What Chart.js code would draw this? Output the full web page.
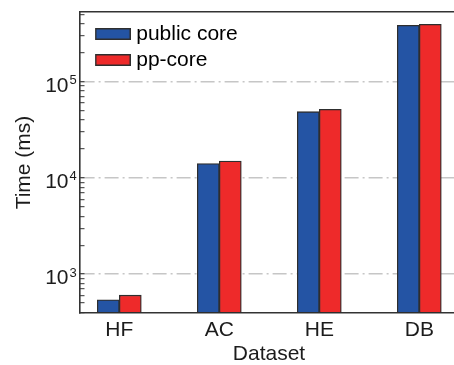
<!DOCTYPE html>
<html>
<head>
<meta charset="utf-8">
<script src="https://cdn.jsdelivr.net/npm/chart.js@4.4.1/dist/chart.umd.min.js"></script>
<style>
  html, body { margin: 0; padding: 0; background: #fff; overflow: hidden; }
  canvas { display: block; }
</style>
</head>
<body>
<canvas id="c" width="460" height="365"></canvas>
<script>
// ---- data ----
const categories = ['HF', 'AC', 'HE', 'DB'];
const categoryPositions = [0, 1, 2, 3];
const publicCore = [541, 14100, 48800, 385000];
const ppCore = [605, 15000, 51600, 395000];
const seriesNames = ['public core', 'pp-core'];
const yTickValues = [400, 500, 600, 700, 800, 900,
  1000, 2000, 3000, 4000, 5000, 6000, 7000, 8000, 9000,
  10000, 20000, 30000, 40000, 50000, 60000, 70000, 80000, 90000,
  100000, 200000, 300000, 400000, 500000];
const yMajorValues = [1000, 10000, 100000];
const yMajorBase = ['10', '10', '10'];
const yMajorExp = ['3', '4', '5'];

const BLUE = '#2454a4';
const RED = '#ee2a2a';
const EDGE = '#2e2e2e';
const FONT = "'Liberation Sans', Arial, Helvetica, sans-serif";
const TEXT = '#1c1c1c';
const FS = 21;

Chart.defaults.font.family = FONT;
Chart.defaults.color = TEXT;

function legendSwatch(color) {
  const cv = document.createElement('canvas');
  cv.width = 36; cv.height = 12;
  const g = cv.getContext('2d');
  g.fillStyle = color;
  g.fillRect(0, 0, 36, 12);
  g.strokeStyle = EDGE;
  g.lineWidth = 1.5;
  g.strokeRect(0.75, 0.75, 34.5, 10.5);
  return cv;
}
const swatches = [legendSwatch(BLUE), legendSwatch(RED)];

const ytickLabelPlugin = {
  id: 'ytickLabels',
  afterLayout(chart) {
    const lg = chart.legend;
    if (lg) { lg.left = 95.1; lg.top = 18.5; }
  },
  afterDraw(chart) {
    const ys = chart.scales.y;
    const ctx = chart.ctx;
    ctx.save();
    ctx.fillStyle = TEXT;
    yMajorValues.forEach((v, i) => {
      const py = ys.getPixelForValue(v);
      ctx.font = '21px ' + FONT;
      ctx.textAlign = 'right';
      ctx.textBaseline = 'alphabetic';
      ctx.fillText(yMajorBase[i], 68.5, py + 10);
      ctx.font = '13px ' + FONT;
      ctx.textAlign = 'left';
      ctx.fillText(yMajorExp[i], 69.5, py + 2.5);
    });
    ctx.restore();
  }
};

new Chart(document.getElementById('c'), {
  type: 'bar',
  data: {
    datasets: [
      {
        label: seriesNames[0],
        data: categoryPositions.map((x, i) => ({ x: x, y: publicCore[i] })),
        backgroundColor: BLUE,
        borderColor: EDGE,
        borderWidth: 1.3,
        borderSkipped: false,
        barThickness: 22
      },
      {
        label: seriesNames[1],
        data: categoryPositions.map((x, i) => ({ x: x, y: ppCore[i] })),
        backgroundColor: RED,
        borderColor: EDGE,
        borderWidth: 1.3,
        borderSkipped: false,
        barThickness: 22
      }
    ]
  },
  options: {
    responsive: false,
    animation: false,
    devicePixelRatio: 1,
    layout: { padding: { top: 12, right: 2, left: 0, bottom: 0 } },
    plugins: {
      tooltip: { enabled: false },
      legend: {
        position: 'chartArea',
        align: 'start',
        labels: {
          usePointStyle: true,
          pointStyleWidth: 25.6,
          padding: 5,
          color: TEXT,
          font: { size: FS, family: FONT },
          generateLabels(chart) {
            return chart.data.datasets.map((ds, i) => ({
              text: ds.label,
              fillStyle: i === 0 ? BLUE : RED,
              strokeStyle: EDGE,
              lineWidth: 0,
              pointStyle: swatches[i],
              hidden: false,
              datasetIndex: i
            }));
          }
        }
      }
    },
    scales: {
      x: {
        type: 'linear',
        position: 'bottom',
        min: -0.393,
        max: 3.387,
        offset: false,
        afterBuildTicks(scale) { scale.ticks = categoryPositions.map(v => ({ value: v })); },
        afterFit(scale) { scale.height = 52; },
        grid: { display: false, drawTicks: false, offset: false },
        border: { display: true, color: '#333333', width: 1.6 },
        ticks: {
          padding: 4.7,
          color: TEXT,
          font: { size: FS, family: FONT },
          callback: (v) => categories[v] !== undefined ? categories[v] : ''
        },
        title: {
          display: true,
          text: 'Dataset',
          color: TEXT,
          font: { size: FS, family: FONT, lineHeight: 1 },
          padding: { top: 0, bottom: 0 }
        }
      },
      xTop: {
        type: 'linear',
        position: 'top',
        min: -0.393,
        max: 3.387,
        afterFit(scale) { scale.height = 0; },
        grid: { display: false, drawTicks: false },
        border: { display: true, color: '#333333', width: 1.6 },
        ticks: { display: false }
      },
      y: {
        type: 'logarithmic',
        position: 'left',
        min: 395,
        max: 530000,
        afterBuildTicks(scale) { scale.ticks = yTickValues.map(v => ({ value: v, major: yMajorValues.includes(v) })); },
        afterFit(scale) { scale.width = 80; },
        ticks: { display: false },
        grid: {
          drawTicks: true,
          tickLength: -4.5,
          tickColor: '#333333',
          tickWidth: 1,
          color: (ctx) => (ctx.tick && yMajorValues.includes(ctx.tick.value)) ? '#c6c6c6' : 'rgba(0,0,0,0)',
          lineWidth: 1.4
        },
        border: { display: true, color: '#333333', width: 1.6, dash: [14, 4, 2, 4] },
        title: {
          display: true,
          text: 'Time (ms)',
          color: TEXT,
          font: { size: FS, family: FONT },
          padding: { top: 11.4, bottom: 0 }
        }
      }
    }
  },
  plugins: [ytickLabelPlugin]
});
</script>
</body>
</html>
